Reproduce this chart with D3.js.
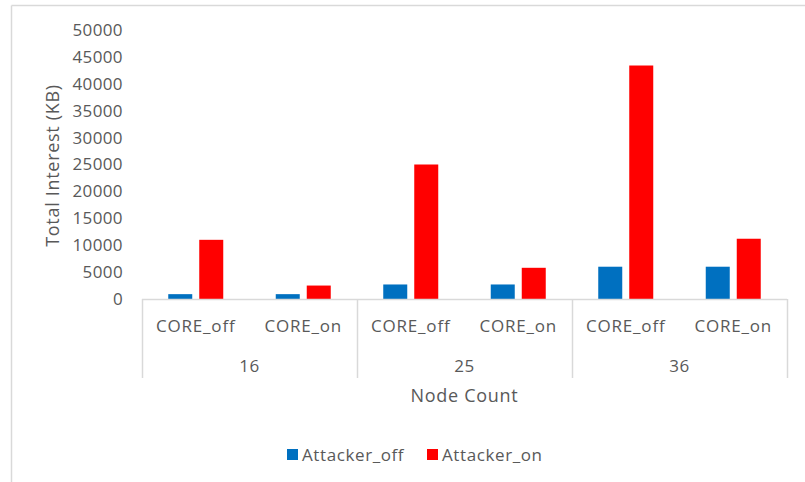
<!DOCTYPE html>
<html>
<head>
<meta charset="utf-8">
<script src="https://cdn.jsdelivr.net/npm/d3@7"></script>
<style>
  html, body { margin: 0; padding: 0; background: #fff; }
  svg { display: block; font-family: "Open Sans", "Noto Sans", sans-serif; }
  text { fill: #595959; }
</style>
</head>
<body>
<svg id="chart" width="805" height="482"></svg>
<script>
// Node counts (outer category level) and CORE setting (inner level)
const nodeCounts = ["16", "25", "36"];
const coreModes = ["CORE_off", "CORE_on"];
const seriesNames = ["Attacker_off", "Attacker_on"];
const seriesColors = ["#0070C0", "#FF0000"];

// Total interest in KB, ordered [16 off, 16 on, 25 off, 25 on, 36 off, 36 on]
const attackerOff = [900, 900, 2700, 2700, 6000, 6000];
const attackerOn = [11000, 2500, 25000, 5800, 43400, 11200];

const yTicks = [0, 5000, 10000, 15000, 20000, 25000, 30000, 35000, 40000, 45000, 50000];

const svg = d3.select("#chart");
const W = 805, H = 482;

// outer chart frame (left and top edges visible)
svg.append("line").attr("x1", 11.5).attr("x2", 11.5).attr("y1", 5.5).attr("y2", H)
  .attr("stroke", "#d9d9d9").attr("stroke-width", 1.5);
svg.append("line").attr("x1", 11.5).attr("x2", W).attr("y1", 5.5).attr("y2", 5.5)
  .attr("stroke", "#d9d9d9").attr("stroke-width", 1.5);

const plot = { left: 142, right: 787, top: 30, bottom: 299 };

const y = d3.scaleLinear().domain([0, 50000]).range([plot.bottom, plot.top]);

// flattened categories: one slot per (node count, core mode)
const cats = [];
nodeCounts.forEach(n => coreModes.forEach(c => cats.push({ n, c, key: n + "|" + c })));

const x = d3.scaleBand().domain(cats.map(d => d.key)).range([plot.left, plot.right]);
const xGroup = d3.scaleBand().domain(nodeCounts).range([plot.left, plot.right]);

const barW = 24, barGap = 7;

// y axis labels (no axis line, no gridlines)
const yAxis = d3.axisLeft(y).tickValues(yTicks).tickSize(0).tickPadding(0).tickFormat(d3.format("d"));
const yg = svg.append("g").attr("transform", `translate(123,0)`).call(yAxis);
yg.select(".domain").remove();
yg.selectAll("text").attr("fill", "#595959").style("font-size", "17px")
  .style("letter-spacing", "0.4px")
  .style("font-family", "'Open Sans', sans-serif");

// bars
const seriesData = [attackerOff, attackerOn];
seriesNames.forEach((s, si) => {
  svg.append("g").selectAll("rect")
    .data(cats.map((c, i) => ({ key: c.key, v: seriesData[si][i] })))
    .join("rect")
    .attr("x", d => x(d.key) + x.bandwidth() / 2 + (si === 0 ? -barW - barGap / 2 : barGap / 2))
    .attr("width", barW)
    .attr("y", d => y(d.v))
    .attr("height", d => y(0) - y(d.v))
    .attr("fill", seriesColors[si]);
});

// baseline
svg.append("line").attr("x1", plot.left).attr("x2", plot.right)
  .attr("y1", y(0) + 0.5).attr("y2", y(0) + 0.5)
  .attr("stroke", "#d9d9d9").attr("stroke-width", 1.5);

// group separators of the two-level category axis
const sepBottom = 378;
const seps = nodeCounts.map(n => xGroup(n)).concat([plot.right]);
svg.append("g").selectAll("line").data(seps).join("line")
  .attr("x1", d => d + 0.5).attr("x2", d => d + 0.5)
  .attr("y1", y(0)).attr("y2", sepBottom)
  .attr("stroke", "#d9d9d9").attr("stroke-width", 1.5);

// inner category labels
svg.append("g").selectAll("text").data(cats).join("text")
  .attr("x", d => x(d.key) + x.bandwidth() / 2)
  .attr("y", 332)
  .attr("text-anchor", "middle")
  .style("font-size", "17px")
  .style("letter-spacing", "0.8px")
  .text(d => d.c);

// outer category labels
svg.append("g").selectAll("text").data(nodeCounts).join("text")
  .attr("x", d => xGroup(d) + xGroup.bandwidth() / 2)
  .attr("y", 372)
  .attr("text-anchor", "middle")
  .style("font-size", "17px")
  .style("letter-spacing", "0.5px")
  .text(d => d);

// axis titles
svg.append("text")
  .attr("x", (plot.left + plot.right) / 2).attr("y", 402)
  .attr("text-anchor", "middle")
  .style("font-size", "18px")
  .style("letter-spacing", "0.7px")
  .text("Node Count");

svg.append("text")
  .attr("transform", `translate(59,${(plot.top + plot.bottom) / 2 + 1}) rotate(-90)`)
  .attr("text-anchor", "middle")
  .style("font-size", "18px")
  .style("letter-spacing", "0.7px")
  .text("Total Interest (KB)");

// legend
const legend = svg.append("g");
const legendX = [287, 427];
seriesNames.forEach((s, i) => {
  const g = legend.append("g").attr("transform", `translate(${legendX[i]},449)`);
  g.append("rect").attr("width", 11).attr("height", 11).attr("fill", seriesColors[i]);
  g.append("text").attr("x", 15).attr("y", 11.5).style("font-size", "17px")
    .style("letter-spacing", "0.6px").text(s);
});
</script>
</body>
</html>
